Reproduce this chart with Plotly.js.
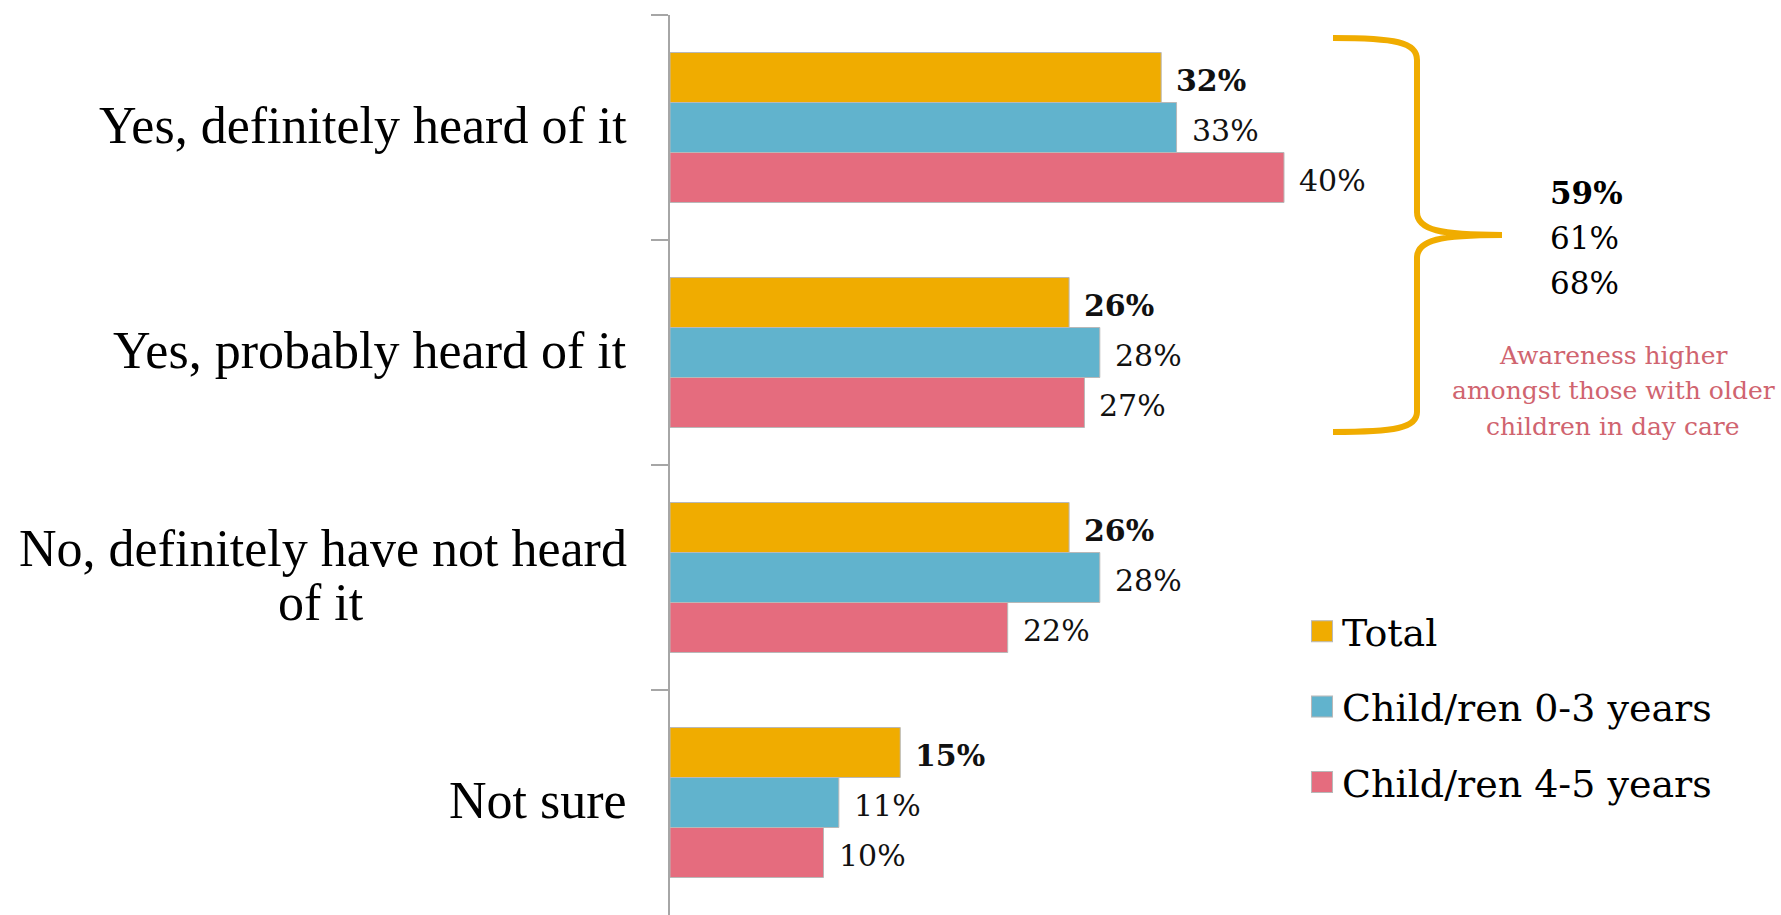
<!DOCTYPE html>
<html><head><meta charset="utf-8">
<script src="https://cdn.plot.ly/plotly-3.0.1.min.js"></script>
<style>html,body{margin:0;padding:0;background:#fff;overflow:hidden}</style>
</head><body><div id="chart" style="width:1781px;height:915px"></div>
<script>
// ---- data ----
const categories = ['Yes, definitely heard of it', 'Yes, probably heard of it', 'No, definitely have not heard<br>of it', 'Not sure'];
const seriesNames = ['Total', 'Child/ren 0-3 years', 'Child/ren 4-5 years'];
const totalValues = [32, 26, 26, 15];
const age03Values = [33, 28, 28, 11];
const age45Values = [40, 27, 22, 10];
const awarenessNetLabels = ['59%', '61%', '68%'];
const awarenessNote = 'Awareness higher<br>amongst those with older<br>children in day care';
const seriesColors = ['#F0AC00', '#61B3CD', '#E56C7E'];

// ---- layout constants ----
const FIG_W = 1781, FIG_H = 915;
const M = {l: 670, r: 190, t: 15, b: 0};
const plotW = FIG_W - M.l - M.r, plotH = FIG_H - M.t - M.b;
const X_MAX = 60;
const BARGAP = 1/3;
const catPx = plotH / categories.length;
const barPx = (1 - BARGAP) * catPx / 3;
const serif = 'Liberation Serif, Times New Roman, serif';
const serif2 = 'DejaVu Serif, Georgia, serif';

const px = x => (x - M.l) / plotW;
const py = y => 1 - (y - M.t) / plotH;
const P = (x, y) => px(x).toFixed(5) + ',' + py(y).toFixed(5);

const seriesValues = [totalValues, age03Values, age45Values];

const traces = seriesValues.map((vals, i) => ({
  type: 'bar', orientation: 'h', name: seriesNames[i],
  x: vals, y: categories,
  marker: {color: seriesColors[i], line: {color: '#b8b8b8', width: 1}},
  legendgroup: 'g' + i, hoverinfo: 'skip'
}));

const annotations = [];
// value labels
seriesValues.forEach((vals, i) => {
  vals.forEach((v, j) => {
    annotations.push({
      x: v, y: categories[j], xref: 'x', yref: 'y',
      text: i === 0 ? '<b>' + v + '%</b>' : v + '%',
      showarrow: false, xanchor: 'left', yanchor: 'middle',
      xshift: 13, yshift: -(i - 1) * barPx - 3,
      font: {family: serif2, size: 30, color: '#111'}
    });
  });
});
// category labels (centered multi-line)
categories.forEach((c, j) => {
  const lines = c.split('<br>');
  lines.forEach((ln, k) => {
    const a = {
      x: 0, y: c, xref: 'paper', yref: 'y', text: ln,
      showarrow: false, xanchor: 'right', yanchor: 'middle',
      xshift: -41, yshift: ((lines.length - 1) / 2 - k) * 54 + 2,
      align: 'center',
      font: {family: serif, size: 52, color: '#000'}
    };
    if (lines.length > 1 && k > 0) {
      // center continuation line under the first line
      a.xanchor = 'center';
      a.xshift = -349;
    }
    annotations.push(a);
  });
});
// bracket values
awarenessNetLabels.forEach((t, k) => {
  annotations.push({
    x: px(1548), y: py(193 + k * 45), xref: 'paper', yref: 'paper',
    text: k === 0 ? '<b>' + t + '</b>' : t, showarrow: false,
    xanchor: 'left', yanchor: 'middle',
    font: {family: serif2, size: 31, color: '#000'}
  });
});
awarenessNote.split('<br>').forEach((ln, k) => {
  annotations.push({
    x: px(1613), y: py(355 + k * 35.5), xref: 'paper', yref: 'paper',
    text: ln, showarrow: false, xanchor: 'center', yanchor: 'middle',
    font: {family: serif2, size: 25, color: '#D0646F'}
  });
});

const bracket = 'M' + P(1333, 38) + ' C' + P(1395, 38) + ' ' + P(1417, 42) + ' ' + P(1417, 60) +
  ' L' + P(1417, 212) + ' C' + P(1417, 230) + ' ' + P(1440, 235) + ' ' + P(1502, 235) +
  ' C' + P(1440, 235) + ' ' + P(1417, 240) + ' ' + P(1417, 258) +
  ' L' + P(1417, 412) + ' C' + P(1417, 428) + ' ' + P(1395, 432) + ' ' + P(1333, 432);

const layout = {
  width: FIG_W, height: FIG_H,
  margin: {l: M.l, r: M.r, t: M.t, b: M.b, pad: 0},
  paper_bgcolor: '#fff', plot_bgcolor: '#fff',
  barmode: 'group', bargap: BARGAP, bargroupgap: 0,
  xaxis: {range: [0, X_MAX], visible: false, fixedrange: true},
  yaxis: {type: 'category', autorange: 'reversed', showticklabels: false,
    showline: true, linecolor: '#a6a6a6', linewidth: 2,
    ticks: 'outside', tickson: 'boundaries', ticklen: 17, tickwidth: 2, tickcolor: '#a6a6a6',
    showgrid: false, zeroline: false, fixedrange: true},
  showlegend: true,
  legend: {x: px(1302), y: py(600), xanchor: 'left', yanchor: 'top',
    traceorder: 'grouped', tracegroupgap: 23,
    font: {family: serif2, size: 38, color: '#000'}, bgcolor: 'rgba(0,0,0,0)'},
  annotations: annotations,
  shapes: [{type: 'path', xref: 'paper', yref: 'paper', path: bracket,
    line: {color: '#F0AC00', width: 6}, layer: 'above'}]
};

Plotly.newPlot('chart', traces, layout, {displayModeBar: false, staticPlot: true}).then(gd => {
  gd.querySelectorAll('.legend .legendpoints path').forEach(p => {
    const t = p.getAttribute('transform') || '';
    p.setAttribute('transform', t + ' scale(1.75)');
    p.style.strokeWidth = '0.6px';
  });
});
</script></body></html>
